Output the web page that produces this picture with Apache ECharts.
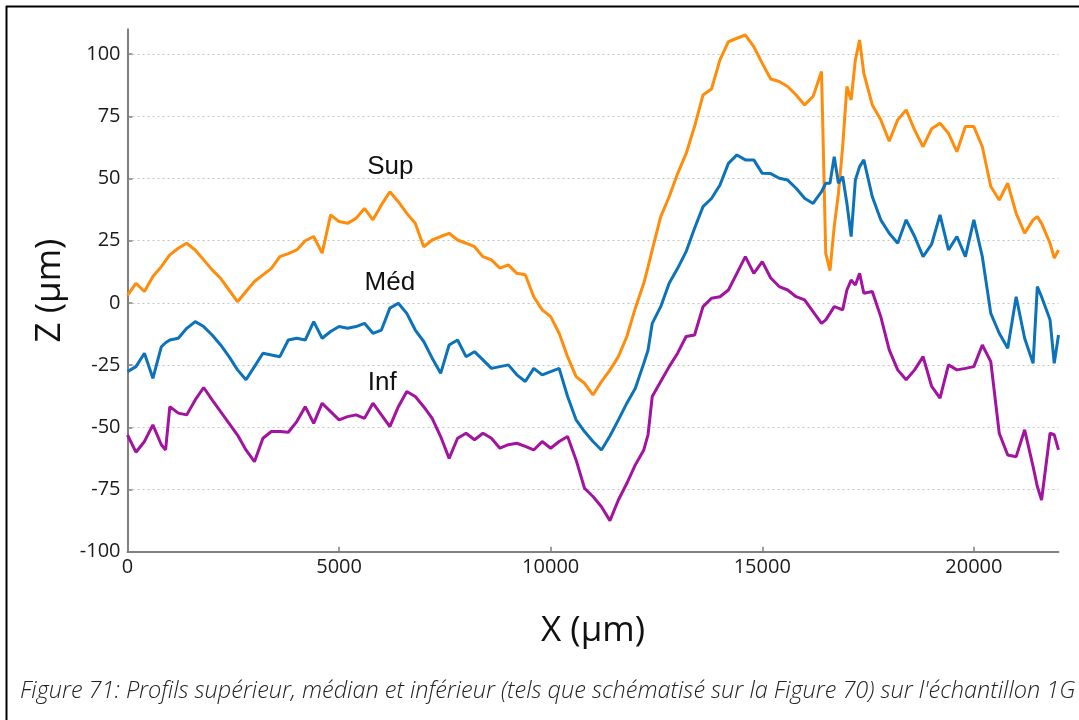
<!DOCTYPE html>
<html><head><meta charset="utf-8">
<script src="https://cdn.jsdelivr.net/npm/echarts@6/dist/echarts.min.js"></script>
<style>html,body{margin:0;padding:0;background:#fff}#c{width:1079px;height:720px}</style>
</head><body><div id="c"></div>
<script>
const xPositions = [0,200,400,600,800,900,1000,1200,1400,1600,1800,2000,2200,2400,2600,2800,3000,3200,3400,3600,
3800,4000,4200,4400,4600,4800,5000,5200,5400,5600,5800,6000,6200,6400,6600,6800,7000,7200,7400,7600,
7800,8000,8200,8400,8600,8800,9000,9200,9400,9600,9800,10000,10200,10400,10600,10800,11000,11200,11400,11600,
11800,12000,12200,12300,12400,12600,12800,13000,13200,13400,13600,13800,14000,14200,14400,14600,14800,15000,15200,15400,
15600,15800,16000,16200,16400,16500,16600,16700,16800,16900,17000,17100,17200,17300,17400,17600,17800,18000,18200,18400,
18600,18800,19000,19200,19400,19600,19800,20000,20200,20400,20600,20800,21000,21200,21400,21500,21600,21800,21900,22000];

const supValues = [3,7.9,4.6,10.6,14.6,17,19.3,22,24,21.3,17.3,13.3,9.9,5.2,0.5,4.6,8.6,11.3,13.9,18.6,
19.8,21.3,25,26.7,20,35.4,32.7,32,34,38,33.4,39.4,44.7,40.7,36,32,22.6,25.3,26.7,28,
25.3,24,22.6,18.6,17.3,14,15.3,11.9,11.3,2.5,-2.8,-5.5,-12.2,-21.6,-29.6,-32.3,-37,-31.6,-27,-21.6,
-13.5,-2.1,7.9,14.5,21.3,34.7,42.7,52,60,70.9,83.6,86,97.7,105,106.4,107.7,103,96.3,90,89,
87,83.6,79.6,83,93,20,13,30.7,44,62.8,87,81.6,97.7,105.7,92.3,79.6,73.6,65,73.6,77.6,
69.5,62.8,70,72.2,68.2,60.8,70.9,70.9,62.8,46.8,41.4,48.1,36,28,33.4,34.7,32,24,18,21.3];

const medValues = [-27.6,-25.6,-20.2,-30.3,-17.6,-16,-14.9,-14.2,-10.2,-7.5,-9.5,-12.9,-16.9,-21.6,-26.9,-30.9,-25.6,-20.2,-20.9,-21.6,
-14.9,-14.2,-14.9,-7.5,-14.2,-11.5,-9.5,-10.2,-9.5,-8.2,-12.2,-10.9,-2.1,-0.1,-4.2,-10.9,-15.5,-22.2,-28.3,-16.9,
-14.9,-21.6,-19.6,-22.9,-26.3,-25.6,-24.9,-28.9,-31.6,-26.3,-28.9,-27.6,-26.3,-37.6,-47,-51.7,-55.7,-59.1,-53.5,-47,
-40.3,-34.3,-24.3,-19,-8.2,-1.5,7.9,13.9,20.6,30,38.7,42,47.4,56.1,59.5,57.5,57.5,52.1,52,50.1,
49.4,46.1,42.1,40,44.7,48.1,48.1,58.8,48.1,50.8,40,26.7,49.4,54.8,57.5,42.7,33.4,28,24,33.4,
26.7,18.6,23.5,35.4,21.3,26.7,18.6,33.4,18.6,-4.2,-12.2,-18.2,2.5,-14.2,-24.3,6.6,2.5,-6.8,-24.3,-12.9];

const infValues = [-53.1,-60,-55.7,-49,-57,-59.1,-41.7,-44.3,-45,-39,-34,-39,-43.7,-48.4,-53.1,-59.1,-63.8,-54.4,-51.7,-51.7,
-52,-47.7,-41.7,-48.4,-40.3,-43.7,-47,-45.7,-45,-46.4,-40.3,-45,-49.7,-41.7,-35.6,-37.6,-41.7,-46.4,-53.7,-62.5,
-54.4,-52.4,-55,-52.4,-54.4,-58.4,-57,-56.4,-57.7,-59.1,-55.7,-58.4,-55.7,-53.7,-63.1,-74.5,-77.8,-81.9,-87.5,-79.2,
-72.5,-65.1,-59.1,-53,-37.6,-31.6,-25.6,-20.2,-13.5,-12.9,-1.5,1.9,2.5,5.2,11.9,18.6,11.9,16.6,10,6.6,
5.2,2.5,1.2,-3.5,-8.2,-6.8,-4.2,-1.5,-2.1,-2.8,5.2,9.2,7.2,11.9,3.9,4.6,-5.5,-18.9,-26.9,-30.9,
-26.9,-21.6,-33.4,-38.3,-24.9,-26.9,-26.3,-25.6,-16.9,-23.6,-52.4,-61.1,-61.8,-51,-65.8,-73.8,-79.2,-52.4,-53,-59.1];

const seriesNames = ['Sup', 'Méd', 'Inf'];
const xAxisName = 'X (µm)';
const yAxisName = 'Z (µm)';
const caption = "Figure 71: Profils supérieur, médian et inférieur (tels que schématisé sur la Figure 70) sur l'échantillon 1G";

const colors = ['#FF8C0A', '#0C72BA', '#A2139F'];
const valueSets = [supValues, medValues, infValues];
const labelCoords = [[6210, 54.8], [6199, 7.9], [6021, -32.3]];

const chart = echarts.init(document.getElementById('c'), null, {renderer: 'canvas'});
const font = '"Open Sans", sans-serif';

const series = valueSets.map((vals, k) => ({
  name: seriesNames[k],
  type: 'line',
  data: xPositions.map((x, i) => [x, vals[i]]),
  showSymbol: false,
  symbol: 'none',
  lineStyle: {color: colors[k], width: 3},
  itemStyle: {color: colors[k]},
  silent: true,
  animation: false,
  markPoint: {
    silent: true,
    symbol: 'circle',
    symbolSize: 0,
    data: [{coord: labelCoords[k], value: seriesNames[k]}],
    label: {show: true, position: 'inside', formatter: seriesNames[k], color: '#111',
      fontFamily: '"Liberation Sans", Arial, sans-serif', fontSize: 26}
  }
}));

chart.setOption({
  animation: false,
  backgroundColor: '#fff',
  grid: {left: 127.5, right: 20.5, top: 29.3, bottom: 168.3, containLabel: false},
  xAxis: {
    type: 'value', min: 0, max: 22000, interval: 5000,
    name: xAxisName, nameLocation: 'middle', nameGap: 62,
    nameTextStyle: {fontFamily: font, fontSize: 35, color: '#111'},
    axisLine: {show: true, onZero: false, lineStyle: {color: '#808080', width: 2}},
    axisTick: {show: true, inside: true, length: 5, lineStyle: {color: '#808080', width: 1.5}},
    axisLabel: {fontFamily: font, fontSize: 20, color: '#1a1a1a', margin: 6, showMaxLabel: false,
      formatter: v => String(v)},
    splitLine: {show: false}
  },
  yAxis: {
    type: 'value', min: -100, max: 110, interval: 25,
    name: yAxisName, nameLocation: 'middle', nameGap: 60, nameRotate: 90,
    nameTextStyle: {fontFamily: font, fontSize: 35, color: '#111'},
    axisLine: {show: true, lineStyle: {color: '#808080', width: 2}},
    axisTick: {show: true, inside: true, length: 5, lineStyle: {color: '#808080', width: 1.5}},
    axisLabel: {fontFamily: font, fontSize: 20, color: '#1a1a1a', margin: 7, showMaxLabel: false,
      formatter: v => String(v)},
    splitLine: {show: true, showMinLine: false, showMaxLine: false,
      lineStyle: {type: [2, 3], color: '#c4c4c4', width: 1}}
  },
  series: series,
  graphic: [
    {type: 'line', shape: {x1: 6.5, y1: 6, x2: 6.5, y2: 720}, style: {stroke: '#000', lineWidth: 2}, silent: true},
    {type: 'line', shape: {x1: 6, y1: 6.5, x2: 1079, y2: 6.5}, style: {stroke: '#000', lineWidth: 2}, silent: true},
    {type: 'text', left: 20, top: 680, silent: true,
      style: {text: caption, fontFamily: font, fontStyle: 'italic', fontWeight: 300, fontSize: 23.5, fill: '#222'}}
  ]
});
</script>
</body></html>
